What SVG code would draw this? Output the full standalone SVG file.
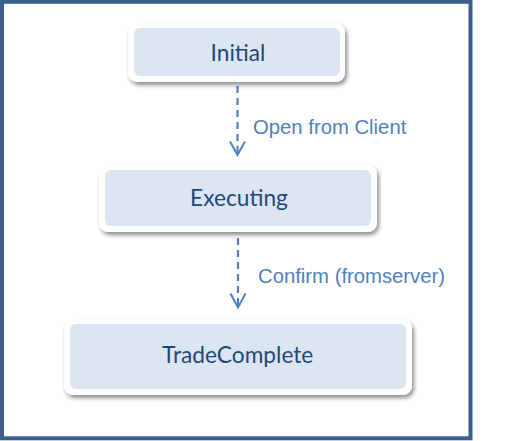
<svg xmlns="http://www.w3.org/2000/svg" width="526" height="441" viewBox="0 0 526 441">
<defs>
<style>
.frame{fill:#ffffff;stroke:#3a5f8b;stroke-width:4}
.outer{fill:#ffffff;filter:url(#sh)}
.inner{fill:#dce6f2}
.nt{font-family:Lato,"Open Sans",sans-serif;font-size:22.7px;fill:#1f497d;text-anchor:middle}
.lt{font-family:"Liberation Sans",Arial,sans-serif;font-size:20.3px;fill:#4f81bd}
.edge{stroke:#4f81bd;stroke-width:2.2;fill:none;stroke-dasharray:7,5}
.head{stroke:#4f81bd;stroke-width:2;fill:none}
</style>
<filter id="sh" x="-10%" y="-20%" width="130%" height="150%">
<feDropShadow dx="2" dy="3" stdDeviation="2" flood-color="#000000" flood-opacity="0.45"/>
</filter>
</defs>
<rect class="frame" x="2" y="1.8" width="468.5" height="436.5"/>
<g id="connectors">
<g id="e1">
<line class="edge" x1="237.5" y1="86" x2="237.5" y2="153"/>
<polyline class="head" points="230,141.5 237.5,155 245,141.5"/>
<text class="lt" x="253" y="134">Open from Client</text>
</g>
<g id="e2">
<line class="edge" x1="238" y1="238" x2="238" y2="306"/>
<polyline class="head" points="230.5,293.5 238,307.5 245.5,293.5"/>
<text class="lt" x="258" y="283">Confirm (fromserver)</text>
</g>
</g>
<g id="n-initial">
<rect class="outer" x="128" y="23" width="217" height="59" rx="9"/>
<rect class="inner" x="134" y="28" width="206" height="48" rx="6"/>
<text class="nt" x="238" y="60.5">Initial</text>
</g>
<g id="n-executing">
<rect class="outer" x="99" y="165" width="278" height="67" rx="9"/>
<rect class="inner" x="105" y="170" width="266" height="56" rx="6"/>
<text class="nt" x="239" y="206">Executing</text>
</g>
<g id="n-tradecomplete">
<rect class="outer" x="64" y="319" width="348" height="76" rx="9"/>
<rect class="inner" x="70" y="324" width="336" height="65" rx="6"/>
<text class="nt" x="237.7" y="363.3">TradeComplete</text>
</g>
</svg>
